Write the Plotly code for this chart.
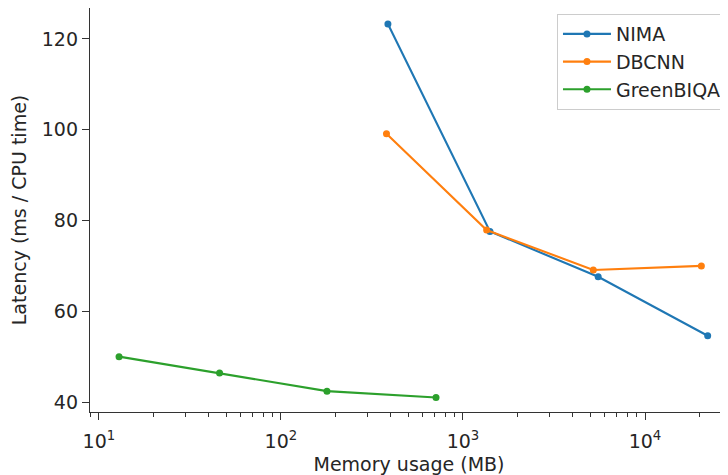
import plotly.graph_objects as go

# Data
nima_mem = [387, 1407, 5530, 22100]
nima_lat = [123.3, 77.6, 67.6, 54.6]

dbcnn_mem = [380, 1349, 5200, 20400]
dbcnn_lat = [99.1, 77.9, 69.1, 70.0]

green_mem = [12.9, 46, 179, 711]
green_lat = [50.0, 46.4, 42.4, 41.0]

x_tickvals = [10, 100, 1000, 10000]
x_ticktext = ["10<sup>1</sup>", "10<sup>2</sup>", "10<sup>3</sup>", "10<sup>4</sup>"]
y_tickvals = [40, 60, 80, 100, 120]

FONT = "DejaVu Sans"
TXT = "#262626"

fig = go.Figure()
series = [
    ("NIMA", nima_mem, nima_lat, "#1f77b4"),
    ("DBCNN", dbcnn_mem, dbcnn_lat, "#ff7f0e"),
    ("GreenBIQA", green_mem, green_lat, "#2ca02c"),
]
for name, xs, ys, c in series:
    fig.add_trace(go.Scatter(
        x=xs, y=ys, name=name, mode="lines+markers",
        line=dict(color=c, width=2.1),
        marker=dict(color=c, size=7),
    ))

# page body has an 8px default margin, so the figure is 720x467
fig.update_layout(
    width=720, height=467,
    margin=dict(l=82, r=0, t=0, b=63),
    paper_bgcolor="white", plot_bgcolor="white",
    font=dict(family=FONT, size=19, color=TXT),
    showlegend=True,
    legend=dict(
        x=0.9984, y=0.985, xanchor="right", yanchor="top",
        bgcolor="rgba(255,255,255,0.8)", bordercolor="#cccccc", borderwidth=1,
        font=dict(family=FONT, size=19, color=TXT),
        tracegroupgap=0, itemwidth=48,
    ),
)

fig.update_xaxes(
    type="log", range=[0.951, 4.456],
    tickvals=x_tickvals, ticktext=x_ticktext,
    ticks="outside", ticklen=7, tickwidth=1.2, tickcolor="#333",
    ticklabelstandoff=5,
    minor=dict(ticks="outside", ticklen=4, tickwidth=1, tickcolor="#333", dtick="D1", showgrid=False),
    showline=True, linecolor="#333", linewidth=1.3, mirror=True,
    showgrid=False, zeroline=False,
    title=dict(text="Memory usage (MB)", font=dict(family=FONT, size=19, color=TXT), standoff=6),
    automargin=False,
)
fig.update_yaxes(
    range=[37.8, 126.83],
    tickvals=y_tickvals,
    ticks="outside", ticklen=7, tickwidth=1.2, tickcolor="#333",
    showline=True, linecolor="#333", linewidth=1.3, mirror=False,
    showgrid=False, zeroline=False,
    title=dict(text="Latency (ms / CPU time)", font=dict(family=FONT, size=19, color=TXT), standoff=11),
    automargin=False,
)

fig.write_html("out.html")
